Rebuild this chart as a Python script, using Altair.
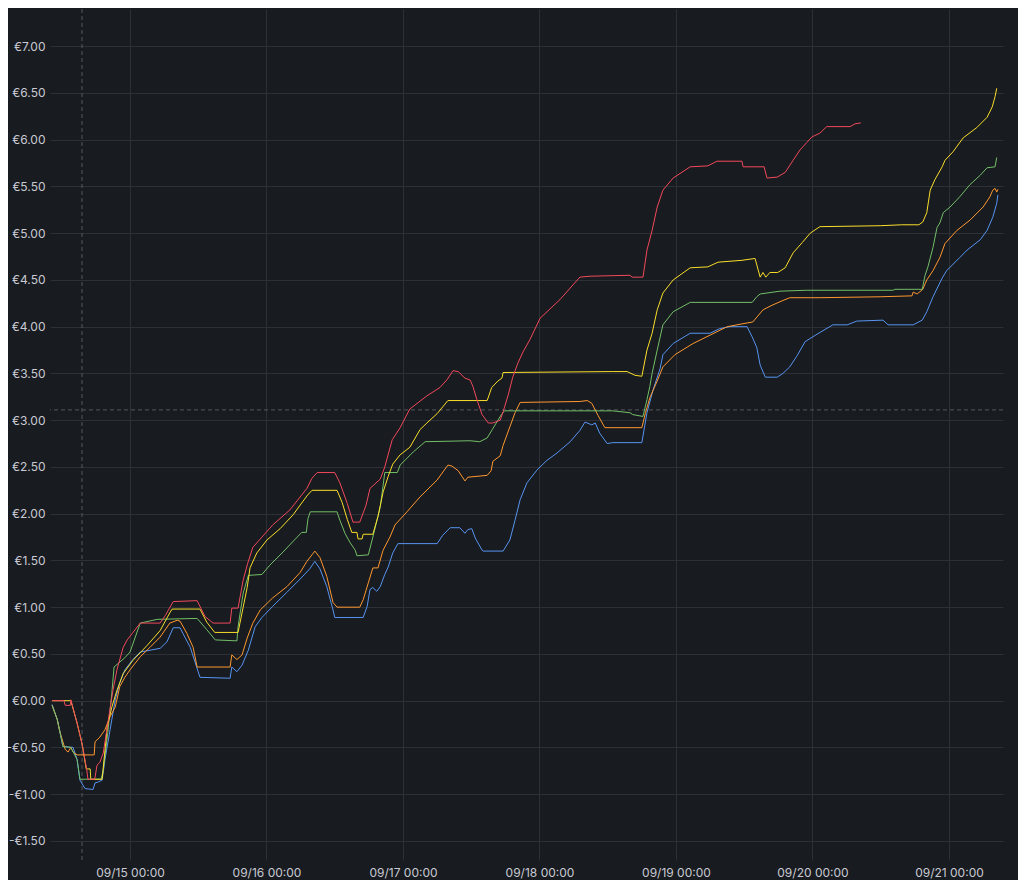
import altair as alt
import pandas as pd

# ---- data: hours since 2024-09-14 00:00, value in euros ----
BASE = "2024-09-14 00:00:00"

red_pts = [(10.3,0.00),(12.4,0.00),(12.6,-0.05),(13.5,-0.05),(13.6,0.01),(14.7,-0.24),(15.6,-0.47),(16.4,-0.74),(16.6,-0.84),(17.8,-0.84),(18.2,-0.69),(18.7,-0.66),(19.3,-0.56),(20.1,-0.24),(21.0,0.11),(21.7,0.33),(22.8,0.57),(23.5,0.65),(24.4,0.72),(25.8,0.83),(29.3,0.83),(30.2,0.91),(31.6,1.06),(35.8,1.07),(37.2,0.90),(38.6,0.83),(41.6,0.83),(41.9,0.99),(43.0,0.99),(43.9,1.29),(44.7,1.47),(45.6,1.64),(47.2,1.75),(49.1,1.88),(52.1,2.04),(55.1,2.27),(56.0,2.38),(56.9,2.44),(60.0,2.44),(60.9,2.33),(62.2,2.11),(63.2,1.91),(64.4,1.91),(65.5,2.09),(66.2,2.27),(68.0,2.37),(68.8,2.50),(70.1,2.79),(71.5,2.92),(73.2,3.12),(76.2,3.26),(78.5,3.35),(79.7,3.43),(80.8,3.53),(81.7,3.52),(82.9,3.45),(83.8,3.43),(84.3,3.36),(85.0,3.22),(85.9,3.06),(87.0,2.97),(87.8,2.97),(89.1,3.00),(89.6,3.09),(90.5,3.27),(91.3,3.46),(92.2,3.61),(93.1,3.73),(94.3,3.86),(96.1,4.09),(99.6,4.29),(103.1,4.53),(104.9,4.54),(111.9,4.55),(112.3,4.53),(114.2,4.53),(114.9,4.82),(115.8,5.03),(116.7,5.28),(117.7,5.46),(119.5,5.59),(122.5,5.71),(125.6,5.72),(127.2,5.77),(131.6,5.77),(131.8,5.71),(135.5,5.71),(136.0,5.59),(137.8,5.60),(139.2,5.65),(140.6,5.78),(141.8,5.89),(143.0,5.97),(143.9,6.03),(145.3,6.07),(146.5,6.14),(150.6,6.14),(151.5,6.17),(152.5,6.18)]

yellow_pts = [(10.3,0.00),(13.6,0.00),(14.7,-0.24),(15.6,-0.47),(16.3,-0.73),(17.0,-0.73),(17.1,-0.84),(19.1,-0.84),(20.0,-0.28),(20.8,-0.07),(21.7,0.11),(22.8,0.29),(24.5,0.43),(27.0,0.59),(29.3,0.75),(31.0,0.94),(31.4,0.98),(36.3,0.98),(37.5,0.84),(38.9,0.73),(43.0,0.73),(43.9,1.00),(44.6,1.21),(45.1,1.42),(46.3,1.58),(48.1,1.72),(50.4,1.84),(52.7,1.99),(55.1,2.19),(56.0,2.25),(60.4,2.25),(61.3,2.12),(62.2,1.94),(63.0,1.80),(63.9,1.80),(64.1,1.73),(64.8,1.73),(65.0,1.78),(66.7,1.78),(67.6,1.97),(68.5,2.23),(69.4,2.40),(70.2,2.53),(71.5,2.63),(73.2,2.71),(75.0,2.90),(76.2,2.97),(78.0,3.07),(79.9,3.21),(86.8,3.21),(87.6,3.35),(88.7,3.42),(89.4,3.45),(89.6,3.51),(108.9,3.52),(111.4,3.52),(112.8,3.48),(114.0,3.47),(114.9,3.75),(115.8,3.93),(116.7,4.18),(117.7,4.36),(119.5,4.50),(122.5,4.63),(125.6,4.64),(127.4,4.69),(131.6,4.71),(133.9,4.73),(134.8,4.53),(135.3,4.58),(135.8,4.53),(136.5,4.58),(137.9,4.58),(139.2,4.63),(140.6,4.79),(142.2,4.90),(143.6,5.00),(145.3,5.07),(155.9,5.08),(159.7,5.09),(162.7,5.09),(163.4,5.12),(164.1,5.22),(164.7,5.46),(165.5,5.57),(166.8,5.71),(167.3,5.78),(168.7,5.87),(170.5,6.02),(172.9,6.13),(174.7,6.24),(175.6,6.35),(176.1,6.46),(176.4,6.55)]

green_pts = [(10.3,-0.05),(11.2,-0.20),(11.7,-0.34),(12.2,-0.49),(13.6,-0.50),(14.7,-0.63),(15.2,-0.84),(18.9,-0.84),(19.25,-0.76),(20.1,-0.34),(20.8,0.08),(21.2,0.36),(23.1,0.46),(24.0,0.52),(25.8,0.83),(28.8,0.87),(35.8,0.88),(37.5,0.76),(39.0,0.65),(42.8,0.64),(43.0,0.79),(43.9,1.15),(44.8,1.34),(47.2,1.35),(48.6,1.45),(50.9,1.59),(53.4,1.75),(54.2,1.80),(55.0,1.80),(55.3,1.95),(55.7,2.02),(60.4,2.02),(60.9,1.93),(61.8,1.79),(62.7,1.69),(63.6,1.61),(63.9,1.55),(65.9,1.56),(66.7,1.75),(68.0,2.07),(68.8,2.44),(71.0,2.44),(71.5,2.52),(73.8,2.66),(75.9,2.77),(83.8,2.78),(85.5,2.77),(86.8,2.81),(87.7,2.90),(88.5,2.98),(89.4,3.07),(89.9,3.10),(108.9,3.10),(111.9,3.08),(112.4,3.06),(114.2,3.04),(114.9,3.22),(115.4,3.36),(115.8,3.50),(116.7,3.75),(117.7,4.02),(119.5,4.16),(122.5,4.26),(133.4,4.26),(134.2,4.32),(134.8,4.35),(138.3,4.38),(143.0,4.39),(158.2,4.39),(158.5,4.40),(163.3,4.40),(163.8,4.55),(164.3,4.64),(165.2,4.85),(165.9,5.06),(166.4,5.11),(167.0,5.22),(168.2,5.28),(169.9,5.39),(171.7,5.52),(173.5,5.62),(174.7,5.70),(176.1,5.71),(176.4,5.81)]

orange_pts = [(10.3,-0.05),(11.2,-0.20),(11.7,-0.34),(12.6,-0.52),(13.1,-0.55),(13.6,-0.50),(14.0,-0.55),(14.7,-0.58),(17.7,-0.58),(17.85,-0.44),(18.7,-0.39),(19.6,-0.31),(20.5,-0.17),(21.4,-0.07),(22.2,0.15),(23.1,0.25),(24.0,0.33),(25.8,0.47),(27.5,0.57),(29.3,0.68),(31.0,0.83),(32.3,0.86),(32.8,0.85),(34.0,0.72),(35.1,0.57),(35.8,0.36),(41.6,0.36),(41.9,0.49),(42.8,0.44),(43.7,0.49),(44.6,0.67),(45.6,0.83),(46.9,0.97),(49.1,1.10),(51.6,1.22),(53.9,1.37),(55.1,1.49),(56.0,1.56),(56.5,1.60),(57.4,1.53),(58.6,1.33),(59.7,1.05),(60.4,1.00),(64.4,1.00),(65.0,1.08),(65.9,1.26),(66.7,1.42),(67.6,1.42),(68.5,1.61),(69.7,1.75),(70.6,1.88),(72.7,2.02),(75.0,2.18),(78.0,2.36),(79.9,2.52),(80.6,2.51),(81.7,2.46),(82.9,2.35),(83.4,2.39),(86.8,2.41),(87.5,2.46),(87.8,2.56),(89.1,2.62),(89.6,2.73),(90.8,2.93),(91.7,3.08),(92.6,3.19),(103.1,3.20),(104.4,3.21),(105.2,3.18),(106.3,3.05),(107.5,2.92),(114.0,2.92),(114.6,3.07),(115.4,3.24),(116.7,3.42),(117.7,3.57),(119.8,3.70),(123.0,3.82),(126.0,3.91),(129.0,4.00),(132.5,4.04),(133.5,4.05),(135.3,4.18),(136.9,4.23),(138.8,4.28),(140.0,4.31),(145.3,4.31),(155.9,4.32),(161.5,4.33),(161.7,4.37),(162.4,4.35),(163.4,4.40),(164.1,4.50),(165.2,4.60),(166.4,4.74),(167.3,4.89),(169.4,5.03),(171.7,5.14),(174.0,5.28),(175.2,5.39),(175.7,5.46),(176.1,5.48),(176.4,5.44),(176.6,5.47)]

blue_pts = [(10.3,-0.04),(11.2,-0.20),(11.7,-0.34),(12.2,-0.49),(14.0,-0.50),(14.7,-0.63),(15.2,-0.85),(16.1,-0.94),(17.5,-0.95),(17.85,-0.88),(18.4,-0.87),(19.1,-0.85),(19.6,-0.63),(20.5,-0.31),(21.4,0.01),(22.2,0.19),(23.1,0.33),(24.5,0.44),(25.8,0.52),(29.3,0.56),(30.5,0.63),(31.6,0.78),(32.8,0.78),(33.3,0.72),(34.6,0.57),(36.3,0.25),(41.6,0.24),(41.9,0.36),(42.8,0.31),(43.7,0.38),(44.8,0.54),(46.0,0.79),(47.2,0.89),(49.1,1.01),(51.6,1.16),(53.9,1.30),(55.6,1.41),(56.5,1.49),(57.4,1.41),(58.6,1.22),(59.7,0.97),(60.0,0.89),(65.0,0.89),(65.7,1.01),(66.2,1.19),(66.7,1.21),(67.4,1.17),(68.0,1.22),(68.8,1.35),(69.4,1.43),(70.2,1.58),(71.1,1.68),(78.0,1.68),(79.0,1.77),(80.3,1.85),(82.0,1.85),(82.9,1.79),(83.4,1.83),(84.1,1.84),(84.7,1.74),(85.9,1.61),(86.1,1.60),(89.6,1.60),(90.8,1.72),(91.7,1.93),(92.6,2.15),(93.8,2.33),(95.6,2.47),(97.3,2.57),(99.1,2.65),(101.4,2.77),(103.1,2.89),(104.0,2.98),(105.2,2.95),(105.8,2.97),(106.6,2.86),(107.9,2.75),(108.9,2.76),(114.0,2.76),(114.9,3.08),(116.0,3.33),(117.2,3.55),(117.7,3.70),(119.5,3.82),(122.5,3.93),(126.0,3.93),(127.7,3.98),(129.5,4.00),(132.5,4.00),(133.4,3.89),(134.2,3.78),(134.8,3.59),(135.7,3.46),(137.8,3.46),(138.8,3.50),(140.0,3.57),(141.3,3.69),(142.7,3.84),(144.8,3.92),(147.6,4.02),(150.1,4.02),(151.8,4.06),(156.4,4.07),(157.3,4.02),(161.7,4.02),(163.3,4.07),(164.1,4.16),(165.2,4.32),(166.8,4.52),(167.6,4.60),(169.9,4.74),(171.2,4.82),(173.5,4.93),(174.7,5.03),(175.7,5.17),(176.4,5.32),(176.6,5.41)]

series_names = ["blue", "orange", "green", "yellow", "red"]
series_colors = ["#5794F2", "#FF9830", "#73BF69", "#FADE2A", "#F2495C"]
series_points = [blue_pts, orange_pts, green_pts, yellow_pts, red_pts]

y_ticks = [-1.5, -1.0, -0.5, 0.0, 0.5, 1.0, 1.5, 2.0, 2.5, 3.0, 3.5, 4.0, 4.5, 5.0, 5.5, 6.0, 6.5, 7.0]
x_tick_days = [15, 16, 17, 18, 19, 20, 21]
marker_hour = 15.56      # dashed vertical marker
threshold_value = 3.11   # dashed horizontal marker

# ---- build table ----
base = pd.Timestamp(BASE)
frames = []
for name, pts in zip(series_names, series_points):
    hrs = [p[0] for p in pts]
    vals = [p[1] for p in pts]
    t = (base + pd.to_timedelta(hrs, unit="h")).round("s")
    frames.append(pd.DataFrame({"series": name, "time": t.strftime("%Y-%m-%dT%H:%M:%S"), "value": vals}))
df = pd.concat(frames, ignore_index=True)

marker_df = pd.DataFrame({"time": [(base + pd.to_timedelta(marker_hour, unit="h")).round("s").strftime("%Y-%m-%dT%H:%M:%S")]})
thr_df = pd.DataFrame({"value": [threshold_value]})

x_scale = alt.Scale(domain=[alt.DateTime(year=2024, month=9, date=14, hours=9, minutes=56),
                            alt.DateTime(year=2024, month=9, date=21, hours=9, minutes=30)])
y_scale = alt.Scale(domain=[-1.704, 7.398], nice=False, zero=False)

x_axis = alt.Axis(values=[alt.DateTime(year=2024, month=9, date=d) for d in x_tick_days],
                  format="%m/%d %H:%M", title=None, labelPadding=7, labelAngle=0)
y_axis = alt.Axis(values=y_ticks, title=None, labelPadding=5,
                  labelExpr="(datum.value < 0 ? '-' : '') + '€' + format(abs(datum.value), '.2f')")

lines = alt.Chart(df).mark_line(strokeWidth=1, clip=True).encode(
    x=alt.X("time:T", scale=x_scale, axis=x_axis),
    y=alt.Y("value:Q", scale=y_scale, axis=y_axis),
    color=alt.Color("series:N", scale=alt.Scale(domain=series_names, range=series_colors), legend=None),
)

vrule = alt.Chart(marker_df).mark_rule(strokeDash=[4, 3], color="#55585e", strokeWidth=1).encode(
    x=alt.X("time:T", scale=x_scale, axis=x_axis)
)
hrule = alt.Chart(thr_df).mark_rule(strokeDash=[4, 3], color="#55585e", strokeWidth=1).encode(
    y=alt.Y("value:Q", scale=y_scale, axis=y_axis)
)

chart = alt.layer(vrule, hrule, lines).properties(
    width=953, height=851,
    autosize=alt.AutoSizeParams(type="none"),
    padding={"left": 42, "top": 1, "right": 15, "bottom": 20},
    background="#181b1f",
).configure_view(stroke=None).configure_axis(
    domain=False, ticks=False, grid=True, gridColor="#2d3035", gridWidth=1,
    labelColor="#c9cad4", labelFont="Inter", labelFontSize=12,
)

chart.save("out.html", embed_options={"renderer": "svg", "actions": False})
